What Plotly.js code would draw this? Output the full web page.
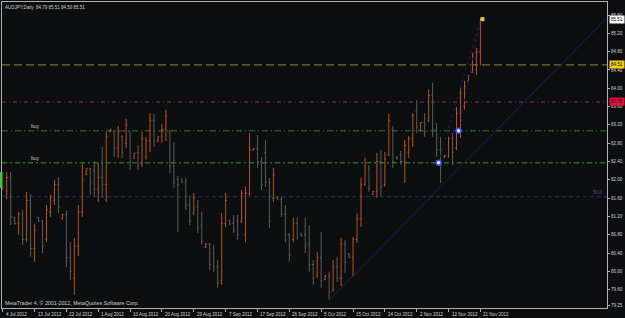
<!DOCTYPE html>
<html><head><meta charset="utf-8">
<script src="https://cdn.plot.ly/plotly-3.0.1.min.js"></script>
<style>html,body{margin:0;padding:0;background:#0c0e10;}#c{width:625px;height:318px;}</style>
</head><body><div id="c"></div>
<script>
// AUDJPY Daily bars, 4 Jul 2012 .. 21 Nov 2012 (broker with Sunday bars)
const opens  = [82.10,81.75,82.05,81.18,81.05,81.25,80.70,81.55,80.50,81.17,81.10,80.70,81.30,81.55,81.90,81.15,81.24,80.30,79.85,80.55,
81.30,82.12,82.24,82.20,81.80,82.05,81.90,83.05,83.05,82.70,82.95,82.80,83.05,82.47,82.60,82.35,82.50,82.85,83.30,82.84,
82.95,83.10,83.05,82.30,82.00,82.02,81.95,81.45,81.28,81.40,81.00,80.53,80.60,80.40,80.10,79.80,81.05,81.12,81.05,81.10,
81.10,80.80,81.70,82.65,82.68,82.40,82.60,81.95,81.60,81.62,81.58,81.25,80.80,80.70,81.05,80.83,80.80,80.60,80.15,79.90,
80.30,79.82,79.90,79.60,80.10,79.85,80.60,80.38,80.30,80.70,81.15,81.90,82.25,81.68,81.75,82.40,81.90,82.55,83.10,82.50,
82.55,82.40,82.60,82.90,83.50,83.10,83.25,83.30,83.85,83.10,82.65,82.49,82.50,82.90,82.70,83.10,83.60,84.15,84.35,84.40,
84.79];
const highs  = [82.17,82.17,82.17,81.19,81.30,81.34,81.74,81.69,81.04,81.19,81.12,81.45,81.67,82.00,82.06,81.26,81.32,80.64,80.73,81.45,
82.35,82.26,82.26,82.41,82.37,82.72,83.05,83.11,83.09,83.18,82.98,83.33,83.05,82.59,82.76,83.05,82.94,83.46,83.44,82.96,
83.22,83.53,83.09,82.81,82.09,82.03,82.04,81.65,81.71,81.56,81.30,80.62,80.62,80.58,80.25,81.28,81.71,81.12,81.23,81.23,
81.78,81.85,83.02,82.69,82.98,82.50,82.87,82.04,82.26,81.63,81.63,81.45,80.84,81.17,81.19,80.84,81.17,81.01,80.25,80.43,
80.86,79.92,79.99,80.25,80.32,80.73,80.69,80.40,80.75,81.26,82.04,82.48,82.32,81.76,82.59,82.65,82.61,83.44,83.18,82.52,
82.63,82.87,82.96,83.46,83.74,83.26,83.46,83.98,84.12,83.24,82.94,82.54,82.94,83.02,83.59,84.00,84.16,84.29,84.77,84.88,
85.51];
const lows   = [81.78,81.58,81.01,81.02,80.80,80.58,80.64,80.32,80.21,81.08,80.40,80.64,81.19,81.45,81.28,81.13,80.10,79.81,79.49,80.34,
81.19,82.11,81.67,81.63,81.52,81.61,81.52,83.04,82.50,82.48,82.48,82.70,82.22,82.46,82.22,82.28,82.44,82.61,82.72,82.83,
82.81,82.85,82.15,81.82,80.86,81.94,81.34,81.01,81.23,80.84,80.58,80.51,80.03,79.99,79.64,79.71,80.97,81.01,80.84,80.69,
81.06,80.64,81.65,82.65,82.26,81.78,81.84,80.95,81.52,81.56,81.19,80.64,80.21,80.64,80.69,80.75,80.40,79.99,79.71,79.86,
79.64,79.81,79.38,79.55,79.77,79.68,79.97,80.29,79.88,80.62,80.97,81.87,81.74,81.67,81.61,81.63,81.85,82.52,82.26,82.44,
82.33,81.93,82.48,82.72,83.02,83.05,82.94,83.26,82.94,82.50,81.93,82.48,82.48,82.32,82.65,82.92,83.53,84.14,84.33,84.29,
84.50];
const closes = [81.85,82.05,81.20,81.05,81.25,80.70,81.55,80.50,80.90,81.10,80.55,81.35,81.60,81.90,81.40,81.24,80.30,80.00,80.55,81.30,
82.00,82.24,81.95,81.80,82.05,81.90,82.95,83.10,82.70,83.05,82.60,83.20,82.40,82.58,82.30,82.90,82.85,83.30,82.85,82.95,
83.10,83.40,82.30,81.95,81.90,81.95,81.45,81.10,81.60,80.95,80.65,80.60,80.15,80.10,79.75,81.05,81.55,81.03,80.90,80.80,
81.70,81.70,82.65,82.68,82.40,81.90,81.95,81.10,82.10,81.58,81.25,80.80,80.35,81.05,80.80,80.78,80.55,80.15,79.85,80.30,
79.80,79.90,79.55,80.10,79.85,80.60,80.20,80.31,80.70,81.15,81.90,82.30,81.80,81.75,82.40,81.85,82.45,83.30,82.40,82.46,
82.40,82.75,82.90,83.40,83.15,83.25,83.05,83.85,83.05,82.65,82.35,82.53,82.90,82.60,83.45,83.90,84.05,84.27,84.70,84.79,
85.51];
const tickLabels = ["4 Jul 2012","13 Jul 2012","23 Jul 2012","1 Aug 2012","10 Aug 2012","20 Aug 2012","29 Aug 2012","7 Sep 2012",
"17 Sep 2012","26 Sep 2012","5 Oct 2012","15 Oct 2012","24 Oct 2012","2 Nov 2012","12 Nov 2012","21 Nov 2012"];
const tickBars = [0,8,16,24,32,40,48,56,64,72,80,88,96,104,112,120];
const priceTicks = [85.60,85.20,84.80,84.40,84.00,83.60,83.20,82.80,82.40,82.00,81.60,81.20,80.80,80.40,80.00,79.60,79.25];
const priceTickText = ["85.60","85.20","84.80","84.40","84.00","83.60","83.20","82.80","82.40","82.00","81.60","81.20","80.80","80.40","80.00","79.60","79.25"];
const levelTP = 84.51, levelRed = 83.70, levelBuy1 = 83.07, levelBuy2 = 82.37, levelFib = 81.63;
const orderBars = [109.5, 114.5];
const orderPrices = [82.37, 83.07];
const trendBars = [82.1, 151.8];
const trendPrices = [79.38, 85.54];
const header = "AUDJPY,Daily  84.79 85.51 84.50 85.51";

const xIdx = opens.map((_, i) => i);
const last = closes.length - 1;
const F = "Liberation Sans, Arial, sans-serif";
const SM = 4.5;
const traces = [
  {type:'ohlc', x:xIdx, open:opens, high:highs, low:lows, close:closes, tickwidth:0.3,
   increasing:{line:{color:'#bc521b', width:1}}, decreasing:{line:{color:'#5c5c5c', width:1}},
   hoverinfo:'skip', showlegend:false},
  {type:'scatter', mode:'lines', x:[orderBars[0], last], y:[orderPrices[0], closes[last]],
   line:{color:'#1c1c70', width:1, dash:'dot'}, hoverinfo:'skip', showlegend:false},
  {type:'scatter', mode:'lines', x:[orderBars[1], last], y:[orderPrices[1], closes[last]],
   line:{color:'#1c1c70', width:1, dash:'dot'}, hoverinfo:'skip', showlegend:false},
  {type:'scatter', mode:'lines', x:trendBars, y:trendPrices,
   line:{color:'#1e1e60', width:1}, hoverinfo:'skip', showlegend:false},
  {type:'scatter', mode:'markers', x:orderBars, y:orderPrices,
   marker:{symbol:'circle', size:5, color:'#e8e8ff', line:{color:'#3050ff', width:1.5}}, hoverinfo:'skip', showlegend:false},
  {type:'scatter', mode:'markers', x:[last + 0.5], y:[closes[last]],
   marker:{symbol:'square', size:4, color:'#f0c040'}, hoverinfo:'skip', showlegend:false}
];
function hline(y, color, dash, w){
  return {type:'line', xref:'paper', x0:0, x1:1, yref:'y', y0:y, y1:y, line:{color:color, width:w, dash:dash}, layer:'below'};
}
const annotations = [
  {xref:'paper', yref:'paper', x:0, y:1, xanchor:'left', yanchor:'top', xshift:1, yshift:-1, showarrow:false,
   text:header, font:{family:F, size:SM, color:'#d0d0d0'}},
  {xref:'paper', yref:'paper', x:0, y:0, xanchor:'left', yanchor:'bottom', xshift:1, yshift:0, showarrow:false,
   text:'MetaTrader 4, © 2001-2012, MetaQuotes Software Corp.', font:{family:F, size:5.3, color:'#d0d0d0'}},
  {xref:'x', yref:'y', x:6.6, y:levelBuy1, xanchor:'left', yanchor:'bottom', showarrow:false, text:'buy',
   font:{family:F, size:5, color:'#c8c8c8'}},
  {xref:'x', yref:'y', x:6.6, y:levelBuy2, xanchor:'left', yanchor:'bottom', showarrow:false, text:'buy',
   font:{family:F, size:5, color:'#c8c8c8'}},
  {xref:'paper', yref:'y', x:0.995, y:levelFib, xanchor:'right', yanchor:'bottom', showarrow:false, text:'50.0',
   font:{family:F, size:SM, color:'#4a4aa0'}},
  {xref:'paper', yref:'y', x:1, y:closes[last], xanchor:'left', xshift:2, showarrow:false, text:closes[last].toFixed(2),
   bgcolor:'#ffffff', borderpad:1, font:{family:F, size:SM, color:'#000000'}},
  {xref:'paper', yref:'y', x:1, y:levelTP, xanchor:'left', xshift:2, showarrow:false, text:levelTP.toFixed(2),
   bgcolor:'#f0d000', borderpad:1, font:{family:F, size:SM, color:'#000000'}},
  {xref:'paper', yref:'y', x:1, y:levelRed, xanchor:'left', xshift:2, showarrow:false, text:levelRed.toFixed(2),
   bgcolor:'#e0103c', borderpad:1, font:{family:F, size:SM, color:'#400010'}}
];
tickBars.forEach((b, k) => annotations.push({
  xref:'x', yref:'paper', x:b, y:0, xanchor:'left', yanchor:'top', xshift:1, yshift:-1.5, showarrow:false,
  text:tickLabels[k], font:{family:F, size:SM, color:'#d0d0d0'}
}));
const layout = {
  width:625, height:318,
  margin:{l:2, r:18, t:2, b:10, pad:0},
  paper_bgcolor:'#0c0e10', plot_bgcolor:'#0c0e10',
  showlegend:false,
  xaxis:{range:[-0.18, 151.8], tickvals:tickBars, showticklabels:false, ticks:'outside', ticklen:3,
    tickcolor:'#b0b0b0', showgrid:false, zeroline:false, showline:true, linecolor:'#b0b0b0', linewidth:1, mirror:true,
    rangeslider:{visible:false}, automargin:false, fixedrange:true},
  yaxis:{range:[79.20, 85.884], side:'right', tickvals:priceTicks, ticktext:priceTickText, ticks:'outside', ticklen:2,
    tickcolor:'#b0b0b0', showgrid:false, zeroline:false, showline:true, linecolor:'#b0b0b0', linewidth:1, mirror:true,
    tickfont:{family:F, size:SM, color:'#d0d0d0'}, automargin:false, fixedrange:true},
  shapes:[
    hline(levelTP, '#9a8420', '8px,4px', 1),
    hline(levelRed, '#5e1a58', '4px,3px,1px,3px', 1.5),
    hline(levelBuy1, '#2e7a2e', '6px,3px,1px,3px', 1),
    hline(levelBuy2, '#1f6e1f', '5px,3px,2px,3px', 1.5),
    hline(levelFib, '#2b2b6b', '4px,3px', 1),
    {type:'rect', xref:'paper', x0:-0.0033, x1:0, yref:'y', y0:81.82, y1:82.17, fillcolor:'#33cc33', line:{width:0}}
  ],
  annotations:annotations
};
Plotly.newPlot('c', traces, layout, {staticPlot:true, displayModeBar:false});
</script></body></html>
